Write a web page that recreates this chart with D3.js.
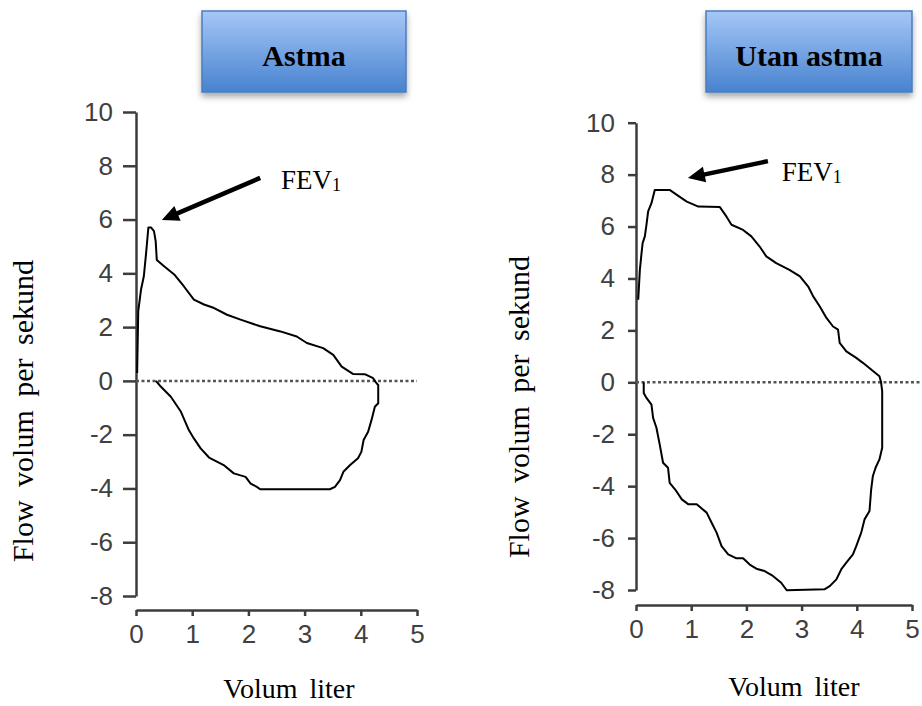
<!DOCTYPE html>
<html>
<head>
<meta charset="utf-8">
<script src="https://cdn.jsdelivr.net/npm/d3@7"></script>
<style>
  body { margin: 0; background: #fff; }
  svg { display: block; }
</style>
</head>
<body>
<script>
// Flow-volume loops (volume in liter, flow in liter/s)
const yTicks = [-8, -6, -4, -2, 0, 2, 4, 6, 8, 10];
const xTicks = [0, 1, 2, 3, 4, 5];
const panelTitles = ["Astma", "Utan astma"];

const astmaVolume = [0.02, 0.04, 0.09, 0.14, 0.18, 0.22, 0.27, 0.32, 0.35, 0.37, 0.5, 0.68, 0.85, 1.03, 1.21,
  1.39, 1.62, 1.86, 2.21, 2.57, 2.86, 3.04, 3.33, 3.51, 3.66, 3.86, 4.07, 4.22, 4.28, 4.31, 4.31, 4.25, 4.19,
  4.13, 4.05, 4.01, 3.95, 3.81, 3.69, 3.63, 3.54, 3.45, 2.21, 2.15, 2.04, 1.95, 1.74, 1.56, 1.3, 1.15, 1.03,
  0.94, 0.8, 0.62, 0.44, 0.38, 0.35];
const astmaFlow = [0.29, 2.59, 3.4, 3.9, 4.76, 5.7, 5.7, 5.57, 5.2, 4.5, 4.26, 3.96, 3.52, 3.02, 2.84,
  2.71, 2.46, 2.28, 2.03, 1.84, 1.65, 1.41, 1.22, 0.97, 0.53, 0.26, 0.25, 0.1, -0.09, -0.15, -0.83, -0.96, -1.46,
  -1.89, -2.2, -2.64, -2.88, -3.13, -3.38, -3.69, -3.94, -4.03, -4.03, -3.94, -3.82, -3.57, -3.44, -3.13, -2.85, -2.51, -2.14,
  -1.83, -1.15, -0.59, -0.21, -0.06, 0];

const utanVolume = [0.04, 0.07, 0.1, 0.12, 0.16, 0.19, 0.22, 0.28, 0.34, 0.61, 0.74, 0.92, 1.13, 1.52, 1.64,
  1.73, 1.94, 2.09, 2.24, 2.36, 2.54, 2.78, 2.97, 3.12, 3.21, 3.33, 3.45, 3.57, 3.66, 3.69, 3.81, 3.99, 4.11,
  4.26, 4.41, 4.44, 4.46, 4.46, 4.41, 4.34, 4.29, 4.26, 4.23, 4.14, 4.08, 3.99, 3.93, 3.81, 3.72, 3.63, 3.51,
  3.42, 2.73, 2.63, 2.48, 2.33, 2.18, 2.06, 1.94, 1.82, 1.67, 1.55, 1.46, 1.37, 1.28, 1.1, 0.95, 0.83, 0.71,
  0.61, 0.58, 0.49, 0.43, 0.37, 0.31, 0.28, 0.19, 0.14, 0.14];
const utanFlow = [3.18, 4.33, 4.97, 5.36, 5.62, 6.07, 6.58, 6.9, 7.41, 7.41, 7.22, 6.96, 6.77, 6.75, 6.38,
  6.07, 5.87, 5.62, 5.23, 4.85, 4.59, 4.33, 4.08, 3.69, 3.31, 2.92, 2.48, 2.15, 2.03, 1.52, 1.19, 0.94, 0.75,
  0.49, 0.23, 0, -0.35, -2.52, -2.97, -3.29, -3.62, -4.13, -4.96, -5.28, -5.79, -6.31, -6.63, -6.95, -7.2, -7.59, -7.85,
  -7.97, -8.01, -7.72, -7.46, -7.27, -7.18, -7.02, -6.78, -6.78, -6.63, -6.31, -5.79, -5.41, -5.02, -4.7, -4.7, -4.51, -4.13,
  -3.87, -3.29, -3.1, -2.4, -1.75, -1.37, -0.86, -0.6, -0.41, 0];

// layout of the two panels
const panels = [
  {
    title: panelTitles[0], vol: astmaVolume, flow: astmaFlow,
    xRange: [136, 417], yRange: [596, 112], xAxisY: 610,
    yTickSize: 13, yTickPad: 10,
    box: { x: 202, y: 11, w: 204, h: 81 }, titleX: 304,
    yLabel: [22, 411], xLabel: [289, 698], dotEnd: 5,
    arrowFrom: [2.21, 7.55], arrowTo: [0.46, 5.98], fev: [2.58, 7.14]
  },
  {
    title: panelTitles[1], vol: utanVolume, flow: utanFlow,
    xRange: [636, 912], yRange: [590, 122.7], xAxisY: 605,
    yTickSize: 8, yTickPad: 13,
    box: { x: 706, y: 11, w: 206, h: 81 }, titleX: 809,
    yLabel: [518, 407], xLabel: [794, 696], dotEnd: 5.25,
    arrowFrom: [2.39, 8.52], arrowTo: [0.94, 7.87], fev: [2.64, 7.75]
  }
];

const svg = d3.select("body").append("svg")
  .attr("width", 922)
  .attr("height", 706);

const defs = svg.append("defs");
const grad = defs.append("linearGradient")
  .attr("id", "boxFill")
  .attr("x1", 0).attr("y1", 0).attr("x2", 0).attr("y2", 1);
grad.append("stop").attr("offset", "0%").attr("stop-color", "#a5c7f8");
grad.append("stop").attr("offset", "100%").attr("stop-color", "#4882cf");

defs.append("filter")
  .attr("id", "shadow")
  .attr("x", "-10%").attr("y", "-10%").attr("width", "120%").attr("height", "140%")
  .append("feDropShadow")
  .attr("dx", 0).attr("dy", 4).attr("stdDeviation", 3)
  .attr("flood-color", "#000").attr("flood-opacity", 0.35);

const axisColor = "#3c3c3c";

panels.forEach(p => {
  const x = d3.scaleLinear().domain([0, 5]).range(p.xRange);
  const y = d3.scaleLinear().domain([-8, 10]).range(p.yRange);

  // title box
  svg.append("rect")
    .attr("x", p.box.x).attr("y", p.box.y)
    .attr("width", p.box.w).attr("height", p.box.h)
    .attr("fill", "url(#boxFill)")
    .attr("stroke", "#4a7ebb")
    .attr("stroke-width", 1.5)
    .attr("filter", "url(#shadow)");

  svg.append("text")
    .attr("x", p.titleX).attr("y", 66)
    .attr("text-anchor", "middle")
    .attr("font-family", "'Liberation Serif', 'Times New Roman', serif")
    .attr("font-weight", "bold")
    .attr("font-size", 30)
    .attr("fill", "#000")
    .text(p.title);

  // axes (plain hyphen minus, whole numbers)
  const yAxis = svg.append("g")
    .attr("transform", `translate(${x(0)},0)`)
    .call(d3.axisLeft(y).tickValues(yTicks).tickFormat(d => String(d))
      .tickSize(p.yTickSize).tickSizeOuter(0).tickPadding(p.yTickPad));

  const xAxis = svg.append("g")
    .attr("transform", `translate(0,${p.xAxisY})`)
    .call(d3.axisBottom(x).tickValues(xTicks).tickFormat(d => String(d))
      .tickSize(6).tickSizeOuter(0).tickPadding(9));

  [yAxis, xAxis].forEach(a => {
    a.select(".domain").attr("stroke", axisColor).attr("stroke-width", 2.5);
    a.selectAll(".tick line").attr("stroke", axisColor).attr("stroke-width", 2.5);
    a.selectAll(".tick text")
      .attr("fill", "#404040")
      .attr("font-family", "'Liberation Sans', Arial, sans-serif")
      .attr("font-size", 26);
  });

  // dotted zero line
  svg.append("line")
    .attr("x1", x(0)).attr("x2", x(p.dotEnd))
    .attr("y1", y(0)).attr("y2", y(0))
    .attr("stroke", "#555")
    .attr("stroke-width", 2.5)
    .attr("stroke-dasharray", "3,2.5");

  // flow-volume loop
  const pts = p.vol.map((v, i) => [v, p.flow[i]]);
  svg.append("path")
    .datum(pts)
    .attr("fill", "none")
    .attr("stroke", "#000")
    .attr("stroke-width", 2)
    .attr("stroke-linejoin", "round")
    .attr("d", d3.line().x(d => x(d[0])).y(d => y(d[1])));

  // FEV1 arrow
  const tx = x(p.arrowFrom[0]), ty = y(p.arrowFrom[1]);
  const hx = x(p.arrowTo[0]), hy = y(p.arrowTo[1]);
  const len = Math.hypot(hx - tx, hy - ty);
  const ux = (hx - tx) / len, uy = (hy - ty) / len;
  const headLen = 17, headW = 8;
  svg.append("line")
    .attr("x1", tx).attr("y1", ty)
    .attr("x2", hx - ux * (headLen - 2)).attr("y2", hy - uy * (headLen - 2))
    .attr("stroke", "#000")
    .attr("stroke-width", 4.5);
  const bx = hx - ux * headLen, by = hy - uy * headLen;
  svg.append("polygon")
    .attr("points", [
      [hx, hy],
      [bx - uy * headW, by + ux * headW],
      [bx + uy * headW, by - ux * headW]
    ].map(d => d.join(",")).join(" "))
    .attr("fill", "#000");

  const fev = svg.append("text")
    .attr("x", x(p.fev[0])).attr("y", y(p.fev[1]))
    .attr("font-family", "'Liberation Serif', 'Times New Roman', serif")
    .attr("font-size", 27)
    .attr("fill", "#000")
    .text("FEV");
  fev.append("tspan")
    .attr("font-size", 18)
    .attr("dy", 2)
    .text("1");

  // axis titles
  svg.append("text")
    .attr("transform", `translate(${p.yLabel[0]},${p.yLabel[1]}) rotate(-90)`)
    .attr("text-anchor", "middle")
    .attr("dy", "0.35em")
    .attr("font-family", "'Liberation Serif', 'Times New Roman', serif")
    .attr("font-size", 30)
    .attr("word-spacing", 6)
    .attr("fill", "#000")
    .text("Flow volum per sekund");

  svg.append("text")
    .attr("x", p.xLabel[0]).attr("y", p.xLabel[1])
    .attr("text-anchor", "middle")
    .attr("font-family", "'Liberation Serif', 'Times New Roman', serif")
    .attr("font-size", 28)
    .attr("word-spacing", 5)
    .attr("fill", "#000")
    .text("Volum liter");
});
</script>
</body>
</html>
